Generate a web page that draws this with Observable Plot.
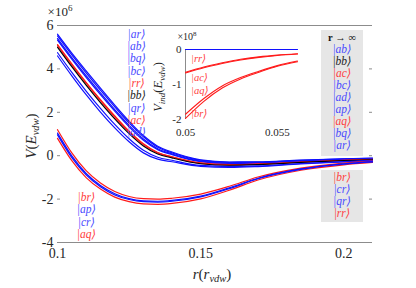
<!DOCTYPE html>
<html><head><meta charset="utf-8">
<script src="https://cdn.jsdelivr.net/npm/d3@7"></script>
<script src="https://cdn.jsdelivr.net/npm/@observablehq/plot@0.6"></script>
<style>
html,body{margin:0;padding:0;background:#fff;}
#wrap{position:relative;width:416px;height:288px;overflow:hidden;}
#wrap svg{position:absolute;}
svg text{font-family:"Liberation Serif","DejaVu Serif",serif;}
</style></head><body><div id="wrap"></div>
<script>
// ---------- main panel data (V in units of 1e6 E_vdw) ----------
const r = [0.100,0.105,0.110,0.115,0.120,0.125,0.130,0.135,0.140,0.150,0.160,0.170,0.185,0.200,0.210];
// upper (repulsive-start) group
const vAr = [5.6,4.73,3.91,3.11,2.33,1.59,0.93,0.44,0.17,-0.19,-0.29,-0.28,-0.2,-0.14,-0.11];
const vAb = [5.52,4.65,3.82,3.02,2.25,1.51,0.87,0.39,0.13,-0.21,-0.31,-0.3,-0.22,-0.15,-0.12];
const vBq = [5.4,4.52,3.69,2.89,2.12,1.4,0.77,0.32,0.08,-0.25,-0.34,-0.32,-0.24,-0.17,-0.14];
const vBc = [5.33,4.45,3.61,2.81,2.05,1.33,0.71,0.28,0.05,-0.27,-0.36,-0.34,-0.25,-0.18,-0.15];
const vRr = [5.12,4.23,3.38,2.58,1.83,1.13,0.55,0.15,-0.05,-0.33,-0.41,-0.38,-0.29,-0.21,-0.17];
const vAc = [5.08,4.18,3.34,2.54,1.78,1.1,0.51,0.13,-0.06,-0.35,-0.42,-0.39,-0.3,-0.22,-0.18];
const vBb = [5.0,4.1,3.25,2.45,1.7,1.02,0.45,0.08,-0.1,-0.37,-0.44,-0.41,-0.31,-0.23,-0.19];
const vQr = [4.75,3.84,2.98,2.18,1.44,0.78,0.25,-0.07,-0.21,-0.45,-0.5,-0.47,-0.36,-0.27,-0.22];
const vAd = [4.6,3.68,2.81,2.01,1.28,0.64,0.13,-0.16,-0.28,-0.49,-0.54,-0.5,-0.38,-0.29,-0.24];
// lower (attractive well) group
const vBr = [1.2,0.13,-0.69,-1.26,-1.65,-1.88,-1.98,-2.0,-1.96,-1.77,-1.41,-0.98,-0.57,-0.34,-0.25];
const vAp = [1.04,-0.01,-0.82,-1.37,-1.75,-1.98,-2.08,-2.1,-2.06,-1.86,-1.48,-1.04,-0.61,-0.37,-0.27];
const vCr = [0.96,-0.09,-0.88,-1.43,-1.81,-2.02,-2.12,-2.14,-2.1,-1.9,-1.52,-1.06,-0.63,-0.39,-0.29];
const vAq = [0.8,-0.23,-1.01,-1.54,-1.91,-2.12,-2.22,-2.24,-2.2,-1.99,-1.59,-1.12,-0.67,-0.42,-0.31];

// ---------- inset data (V_ind in units of 1e8 E_vdw) ----------
const ri = [0.050,0.051,0.052,0.053,0.054,0.055,0.0561];
const iZero = [0,0,0,0,0,0,0];
const iRr = [-0.65,-0.5,-0.38,-0.28,-0.21,-0.16,-0.12];
const iAc = [-0.67,-0.52,-0.4,-0.3,-0.225,-0.17,-0.13];
const iAq = [-1.85,-1.4,-1.04,-0.8,-0.62,-0.46,-0.33];
const iBr = [-1.97,-1.48,-1.1,-0.84,-0.65,-0.48,-0.35];

// ---------- labels ----------
const upperLabels = ["ar","ab","bq","bc","rr","bb","qr","ac","ad"];
const lowerLabels = ["br","ap","cr","aq"];
const insetLabels = ["rr","ac","aq","br"];
const legendTop = ["ab","bb","ac","bc","ad","ap","aq","bq","ar"];
const legendBottom = ["br","cr","qr","rr"];
const yTicks = [-4,-2,0,2,4,6];
const xTicks = [0.1,0.15,0.2];
const yTicksInset = [-2,-1,0];
const xTicksInset = [0.05,0.055];

// ---------- styles ----------
const FONT = '"Liberation Serif", "DejaVu Serif", serif';
const BLUE = "#1010ff", RED = "#ff1a1a", BLACK = "#000000";
const TBLUE = "#4a4aff", TRED = "#ff4040", TBLACK = "#222";
const lineColor = {ar:BLUE,ab:BLUE,bq:BLUE,bc:BLUE,qr:BLUE,ad:BLUE,ap:BLUE,cr:BLUE,rr:RED,ac:RED,br:RED,aq:RED,bb:BLACK};
const textColor = {ar:TBLUE,ab:TBLUE,bq:TBLUE,bc:TBLUE,qr:TBLUE,ad:TBLUE,ap:TBLUE,cr:TBLUE,rr:TRED,ac:TRED,br:TRED,aq:TRED,bb:TBLACK};
const ket = s => `|${s}⟩`;
const AXIS = "#8c8c8c", TICKTXT = "#262626";

const mainSeries = [["ar",vAr],["ab",vAb],["bq",vBq],["bc",vBc],["rr",vRr],["ac",vAc],["bb",vBb],["qr",vQr],["ad",vAd],
                    ["br",vBr],["aq",vAq],["ap",vAp],["cr",vCr]];
const mainRows = mainSeries.flatMap(([s, v]) => r.map((x, i) => ({state: s, x, v: v[i], color: lineColor[s]})));
const insetSeries = [["rr",iRr],["ac",iAc],["aq",iAq],["br",iBr]];
const insetRows = insetSeries.flatMap(([s, v]) => ri.map((x, i) => ({state: s, x, v: v[i], color: lineColor[s]})));

const W = 416, H = 288, ML = 57, MR = 44, MT = 25, MB = 46;
const fw = W - ML - MR;

const main = Plot.plot({
  width: W, height: H, marginLeft: ML, marginRight: MR, marginTop: MT, marginBottom: MB,
  style: {fontFamily: FONT, fontSize: "14px", color: TICKTXT, background: "transparent"},
  x: {domain: [0.1, 0.21]},
  y: {domain: [d3.min(yTicks), d3.max(yTicks)]},
  color: {type: "identity"},
  marks: [
    Plot.ruleY([d3.min(yTicks), d3.max(yTicks)], {stroke: AXIS, strokeWidth: 1}),
    Plot.tickY(yTicks, {y: d => d, stroke: AXIS, insetRight: fw - 3}),
    Plot.tickY(yTicks, {y: d => d, stroke: AXIS, insetLeft: fw - 3}),
    Plot.axisY({ticks: yTicks, tickSize: 0, tickPadding: 4, tickFormat: d => String(d), label: null}),
    Plot.axisX({ticks: xTicks, tickSize: 0, tickPadding: 6, tickFormat: d => String(d), label: null}),
    Plot.line(mainRows, {x: "x", y: "v", z: "state", stroke: "color", strokeWidth: 1.2, curve: "monotone-x"}),
    Plot.text(upperLabels, {x: () => 0.1276, y: (d, i) => 5.6 - i * 0.567, text: ket, fill: d => textColor[d], fontStyle: "italic", fontSize: 11.5}),
    Plot.text(lowerLabels, {x: () => 0.1101, y: (d, i) => -1.92 - i * 0.57, text: ket, fill: d => textColor[d], fontStyle: "italic", fontSize: 11.5})
  ]
});
main.style.left = "0px"; main.style.top = "0px";

const svg = d3.select(main);
// multiplier
{
  const t = svg.append("text").attr("x", 60).attr("y", 16).attr("font-size", 13).attr("fill", TICKTXT);
  t.append("tspan").text("×10");
  t.append("tspan").attr("font-size", 9).attr("dy", -5).text("6");
}
// y label
{
  const t = svg.append("text").attr("transform", "translate(36,136) rotate(-90)").attr("text-anchor", "middle").attr("font-size", 15).attr("fill", TICKTXT);
  t.append("tspan").attr("font-style", "italic").text("V");
  t.append("tspan").text("(");
  t.append("tspan").attr("font-style", "italic").text("E");
  t.append("tspan").attr("font-style", "italic").attr("font-size", 10.5).attr("dy", 3).text("vdw");
  t.append("tspan").attr("dy", -3).text(")");
}
// x label
{
  const t = svg.append("text").attr("x", 212).attr("y", 279).attr("text-anchor", "middle").attr("font-size", 15).attr("fill", TICKTXT);
  t.append("tspan").attr("font-style", "italic").text("r");
  t.append("tspan").text("(");
  t.append("tspan").attr("font-style", "italic").text("r");
  t.append("tspan").attr("font-style", "italic").attr("font-size", 10.5).attr("dy", 3).text("vdw");
  t.append("tspan").attr("dy", -3).text(")");
}
// legends
{
  const g = svg.append("g");
  g.append("rect").attr("x", 321).attr("y", 30).attr("width", 42).attr("height", 126).attr("fill", "#e6e6e6");
  const title = g.append("text").attr("x", 342).attr("y", 40.5).attr("text-anchor", "middle").attr("font-size", 10.5).attr("fill", "#111");
  title.append("tspan").attr("font-weight", "bold").text("r");
  title.append("tspan").text(" → ∞");
  legendTop.forEach((s, i) => {
    g.append("text").attr("x", 342).attr("y", 48.7 + i * 12.05).attr("dy", "0.35em").attr("text-anchor", "middle")
      .attr("font-size", 11.5).attr("font-style", "italic").attr("fill", textColor[s]).text(ket(s));
  });
  g.append("rect").attr("x", 321).attr("y", 170).attr("width", 42).attr("height", 52).attr("fill", "#e6e6e6");
  legendBottom.forEach((s, i) => {
    g.append("text").attr("x", 342).attr("y", 176.8 + i * 12.2).attr("dy", "0.35em").attr("text-anchor", "middle")
      .attr("font-size", 11.5).attr("font-style", "italic").attr("fill", textColor[s]).text(ket(s));
  });
}
document.getElementById("wrap").appendChild(main);

// ---------- inset ----------
const IL = 40, IR = 8, IT = 20, IB = 22;
const inset = Plot.plot({
  width: 112 + IL + IR, height: 70 + IT + IB, marginLeft: IL, marginRight: IR, marginTop: IT, marginBottom: IB,
  style: {fontFamily: FONT, fontSize: "11px", color: TICKTXT, background: "transparent", overflow: "visible"},
  x: {domain: [d3.min(ri), d3.max(ri)]},
  y: {domain: [d3.min(yTicksInset), d3.max(yTicksInset)]},
  color: {type: "identity"},
  marks: [
    Plot.ruleX([d3.min(ri)], {stroke: AXIS, strokeWidth: 1}),
    Plot.axisY({ticks: yTicksInset, tickSize: 0, tickPadding: 4, tickFormat: d => String(d), label: null}),
    Plot.axisX({ticks: xTicksInset, tickSize: 0, tickPadding: 9, tickFormat: d => String(d), label: null}),
    Plot.line(ri.map((x, i) => ({x, v: iZero[i]})), {x: "x", y: "v", stroke: BLUE, strokeWidth: 1.2}),
    Plot.line(insetRows, {x: "x", y: "v", z: "state", stroke: "color", strokeWidth: 1.1, curve: "monotone-x"}),
    Plot.text(insetLabels, {x: () => 0.0503, y: (d, i) => [-0.27, -0.8, -1.17, -1.83][i], text: ket, fill: d => textColor[d],
      fontStyle: "italic", fontSize: 10.5, textAnchor: "start"})
  ]
});
inset.style.left = "145px"; inset.style.top = "29px";
{
  const s = d3.select(inset);
  const t = s.append("text").attr("x", 42).attr("y", 11).attr("font-size", 10).attr("fill", TICKTXT);
  t.append("tspan").text("×10");
  t.append("tspan").attr("font-size", 7).attr("dy", -4).text("8");
  const yl = s.append("text").attr("transform", "translate(17,58) rotate(-90)").attr("text-anchor", "middle").attr("font-size", 12.5).attr("fill", TICKTXT);
  yl.append("tspan").attr("font-style", "italic").text("V");
  yl.append("tspan").attr("font-style", "italic").attr("font-size", 9).attr("dy", 2.5).text("ind");
  yl.append("tspan").attr("dy", -2.5).text("(");
  yl.append("tspan").attr("font-style", "italic").text("E");
  yl.append("tspan").attr("font-style", "italic").attr("font-size", 9).attr("dy", 2.5).text("vdw");
  yl.append("tspan").attr("dy", -2.5).text(")");
}
document.getElementById("wrap").appendChild(inset);
</script></body></html>
